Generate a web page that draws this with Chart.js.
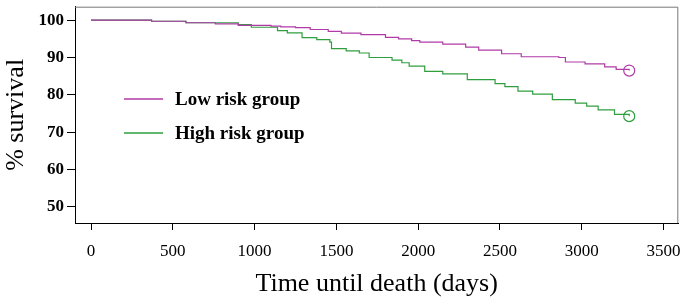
<!DOCTYPE html>
<html>
<head>
<meta charset="utf-8">
<script src="https://cdn.jsdelivr.net/npm/chart.js@4"></script>
<style>
  body { margin: 0; background: #fff; }
  #wrap { width: 685px; height: 305px; }
</style>
</head>
<body>
<div id="wrap"><canvas id="chart" width="685" height="305"></canvas></div>
<script>
// Kaplan-Meier curves (days, % surviving)
const lowDays  = [0, 370, 580, 760, 900, 1100, 1160, 1250, 1340, 1450, 1530, 1650, 1800, 1880, 1960, 2010, 2150, 2290, 2370, 2510, 2630, 2860, 2900, 3020, 3140, 3210, 3290];
const lowSurv  = [100, 99.7, 99.3, 99.0, 98.6, 98.4, 98.2, 98.0, 97.5, 97.0, 96.5, 96.1, 95.4, 95.0, 94.5, 94.1, 93.6, 92.8, 92.0, 91.0, 90.2, 90.0, 88.8, 88.3, 87.5, 86.8, 86.5];
const highDays = [0, 370, 580, 900, 980, 1140, 1200, 1290, 1380, 1460, 1470, 1560, 1640, 1700, 1840, 1900, 1945, 2040, 2150, 2300, 2470, 2530, 2610, 2700, 2820, 2960, 3030, 3100, 3200, 3290];
const highSurv = [100, 99.7, 99.3, 98.8, 98.1, 97.2, 96.6, 95.3, 94.8, 94.1, 92.4, 91.8, 91.2, 90.0, 89.3, 88.6, 87.7, 86.3, 85.6, 84.1, 83.0, 82.2, 81.0, 80.2, 78.7, 77.8, 77.0, 76.0, 74.8, 74.3];
const xTicks = [0, 500, 1000, 1500, 2000, 2500, 3000, 3500];
const yTicks = [50, 60, 70, 80, 90, 100];
const seriesNames = ['Low risk group', 'High risk group'];

const purple = '#b03aa6';
const green = '#2f9e3e';

const toPoints = (xs, ys) => xs.map((x, i) => ({ x: x, y: ys[i] }));
// only the last point gets the censor circle
const lastOnly = ctx => ctx.dataIndex === ctx.dataset.data.length - 1 ? 5.5 : 0;

// frame top/right in grey + inner legend
const framePlugin = {
  id: 'frame',
  afterDraw(chart) {
    const { ctx, chartArea: a } = chart;
    ctx.save();
    ctx.strokeStyle = '#777';
    ctx.lineWidth = 1;
    ctx.beginPath();
    ctx.moveTo(a.left, a.top + 0.5);
    ctx.lineTo(a.right - 0.5, a.top + 0.5);
    ctx.lineTo(a.right - 0.5, a.bottom);
    ctx.stroke();

    const colors = [purple, green];
    const ys = [99, 133];
    ctx.font = 'bold 19px "Liberation Serif"';
    ctx.textBaseline = 'middle';
    ctx.fillStyle = '#000';
    for (let i = 0; i < 2; i++) {
      ctx.beginPath();
      ctx.strokeStyle = colors[i];
      ctx.lineWidth = 1.4;
      ctx.moveTo(124, ys[i]);
      ctx.lineTo(163, ys[i]);
      ctx.stroke();
      ctx.fillText(seriesNames[i], 175, ys[i] + 1);
    }
    ctx.restore();
  }
};

new Chart(document.getElementById('chart'), {
  type: 'line',
  data: {
    datasets: [
      {
        label: seriesNames[0],
        data: toPoints(lowDays, lowSurv),
        borderColor: purple,
        borderWidth: 1.2,
        stepped: 'before',
        pointRadius: lastOnly,
        pointBorderColor: purple,
        pointBackgroundColor: 'rgba(0,0,0,0)',
        pointBorderWidth: 1.2
      },
      {
        label: seriesNames[1],
        data: toPoints(highDays, highSurv),
        borderColor: green,
        borderWidth: 1.2,
        stepped: 'before',
        pointRadius: lastOnly,
        pointBorderColor: green,
        pointBackgroundColor: 'rgba(0,0,0,0)',
        pointBorderWidth: 1.2
      }
    ]
  },
  options: {
    responsive: false,
    animation: false,
    layout: { padding: { top: 4, right: 5, left: 0, bottom: 0 } },
    plugins: { legend: { display: false }, tooltip: { enabled: false } },
    scales: {
      x: {
        type: 'linear',
        min: -98,
        max: 3590,
        afterBuildTicks: s => { s.ticks = xTicks.map(v => ({ value: v })); },
        afterFit: s => { s.height = 82; s.paddingLeft = 0; s.paddingRight = 0; },
        grid: { drawOnChartArea: false, tickLength: 7, tickColor: '#000' },
        border: { display: true, color: '#000' },
        ticks: {
          color: '#000',
          padding: 11,
          maxRotation: 0,
          callback: v => String(v),
          font: { family: 'Liberation Serif', size: 17 }
        },
        title: {
          display: true,
          text: 'Time until death (days)',
          color: '#000',
          padding: { top: 12, bottom: 5 },
          font: { family: 'Liberation Serif', size: 26 }
        }
      },
      y: {
        min: 45.7,
        max: 103.6,
        afterBuildTicks: s => { s.ticks = yTicks.map(v => ({ value: v })); },
        afterFit: s => { s.width = 75; s.paddingTop = 0; s.paddingBottom = 0; },
        grid: { drawOnChartArea: false, tickLength: 8, tickColor: '#000' },
        border: { display: true, color: '#000' },
        ticks: {
          color: '#000',
          padding: 3,
          font: { family: 'Liberation Serif', size: 17, weight: 'bold' }
        },
        title: {
          display: true,
          text: '% survival',
          color: '#000',
          padding: { top: 1, bottom: 0 },
          font: { family: 'Liberation Serif', size: 26 }
        }
      }
    }
  },
  plugins: [framePlugin]
});
</script>
</body>
</html>
